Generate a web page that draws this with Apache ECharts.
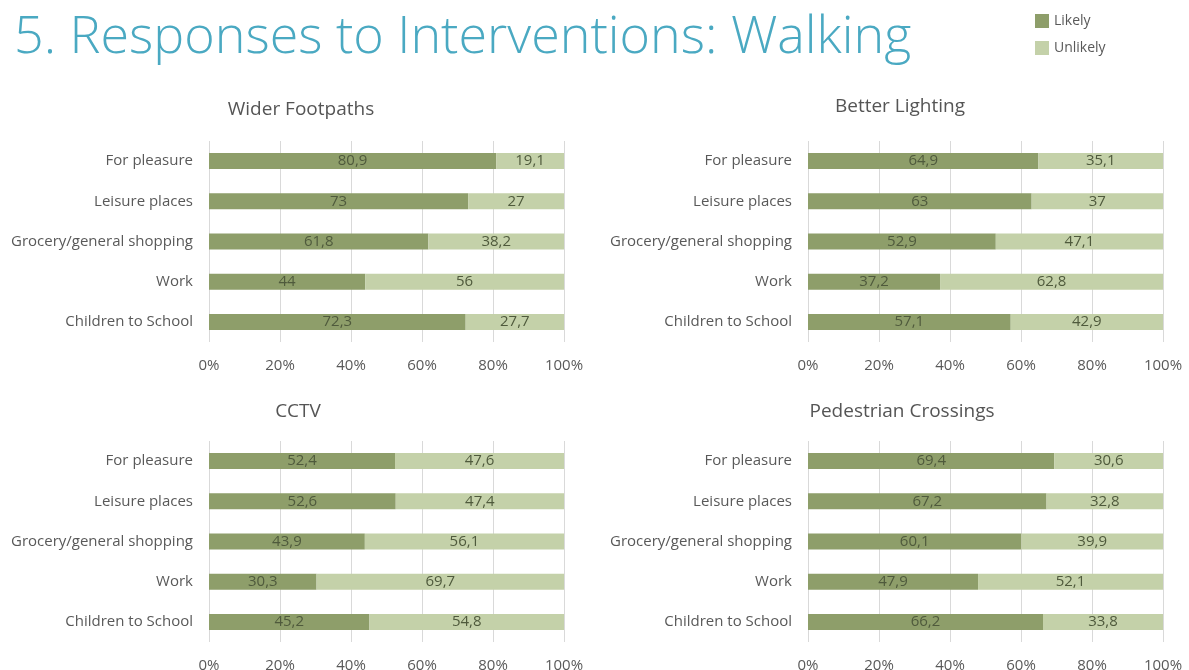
<!DOCTYPE html>
<html>
<head>
<meta charset="utf-8">
<script src="https://cdn.jsdelivr.net/npm/echarts@6/dist/echarts.min.js"></script>
<style>
  html, body { margin: 0; padding: 0; background: #fff; }
  #main { width: 1189px; height: 670px; }
</style>
</head>
<body>
<div id="main"></div>
<script>
var myChart = echarts.init(document.getElementById('main'));

// data
var categories = ['For pleasure', 'Leisure places', 'Grocery/general shopping', 'Work', 'Children to School'];
var panelTitles = ['Wider Footpaths', 'Better Lighting', 'CCTV', 'Pedestrian Crossings'];
var likelyFootpaths = [80.9, 73, 61.8, 44, 72.3];
var unlikelyFootpaths = [19.1, 27, 38.2, 56, 27.7];
var likelyLighting = [64.9, 63, 52.9, 37.2, 57.1];
var unlikelyLighting = [35.1, 37, 47.1, 62.8, 42.9];
var likelyCctv = [52.4, 52.6, 43.9, 30.3, 45.2];
var unlikelyCctv = [47.6, 47.4, 56.1, 69.7, 54.8];
var likelyCrossings = [69.4, 67.2, 60.1, 47.9, 66.2];
var unlikelyCrossings = [30.6, 32.8, 39.9, 52.1, 33.8];

var likelyAll = [likelyFootpaths, likelyLighting, likelyCctv, likelyCrossings];
var unlikelyAll = [unlikelyFootpaths, unlikelyLighting, unlikelyCctv, unlikelyCrossings];

// 布局
var gridPos = [
  { left: 209, top: 141 },
  { left: 808, top: 141 },
  { left: 209, top: 441 },
  { left: 808, top: 441 }
];
var titlePos = [
  { left: 296, top: 105 },
  { left: 895, top: 102 },
  { left: 293, top: 407 },
  { left: 897, top: 407 }
];

var font = '"Open Sans", sans-serif';
var likelyColor = '#8e9e6a';
var unlikelyColor = '#c4d1a9';

function fmt(p) {
  return String(p.value).replace('.', ',');
}

var titles = [{
  text: '5. Responses to Interventions: Walking',
  left: 9,
  top: 7,
  textStyle: { fontFamily: font, fontWeight: 300, fontSize: 52, color: '#4aa9c2' }
}];
var grids = [], xAxes = [], yAxes = [], series = [];

for (var i = 0; i < 4; i++) {
  titles.push({
    text: panelTitles[i],
    left: titlePos[i].left,
    top: titlePos[i].top,
    textAlign: 'center',
    textVerticalAlign: 'middle',
    textStyle: { fontFamily: font, fontWeight: 'normal', fontSize: 19, color: '#555' }
  });
  grids.push({
    left: gridPos[i].left,
    top: gridPos[i].top,
    width: 355,
    height: 201,
    outerBoundsMode: 'none'
  });
  xAxes.push({
    type: 'value',
    gridIndex: i,
    min: 0,
    max: 100,
    interval: 20,
    axisLine: { show: false },
    axisTick: { show: false },
    splitLine: { show: true, lineStyle: { color: '#d9d9d9', width: 1 } },
    axisLabel: {
      formatter: '{value}%',
      margin: 16,
      fontFamily: font,
      fontSize: 15,
      color: '#595959'
    }
  });
  yAxes.push({
    type: 'category',
    gridIndex: i,
    inverse: true,
    data: categories,
    axisLine: { show: false },
    axisTick: { show: false },
    axisLabel: { margin: 16, fontFamily: font, fontSize: 15, color: '#595959' }
  });
  series.push({
    name: 'Likely',
    type: 'bar',
    stack: 's' + i,
    xAxisIndex: i,
    yAxisIndex: i,
    barWidth: 16,
    itemStyle: { color: likelyColor },
    label: { show: true, position: 'inside', formatter: fmt, fontFamily: font, fontSize: 15, color: '#4f5a3c' },
    data: likelyAll[i]
  });
  series.push({
    name: 'Unlikely',
    type: 'bar',
    stack: 's' + i,
    xAxisIndex: i,
    yAxisIndex: i,
    barWidth: 16,
    itemStyle: { color: unlikelyColor },
    label: { show: true, position: 'inside', formatter: fmt, fontFamily: font, fontSize: 15, color: '#4f5a3c' },
    data: unlikelyAll[i]
  });
}

var option = {
  animation: false,
  title: titles,
  legend: {
    orient: 'vertical',
    left: 1030,
    top: 9,
    itemWidth: 14,
    itemHeight: 14,
    itemGap: 13,
    icon: 'rect',
    data: ['Likely', 'Unlikely'],
    textStyle: { fontFamily: font, fontSize: 14, color: '#595959' }
  },
  grid: grids,
  xAxis: xAxes,
  yAxis: yAxes,
  series: series
};

myChart.setOption(option);
</script>
</body>
</html>
